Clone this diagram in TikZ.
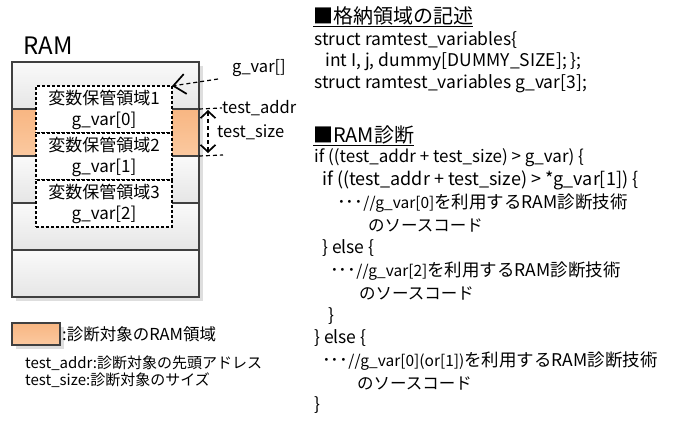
\documentclass[tikz,border=0pt]{standalone}
\usepackage{fontspec}
\setmainfont{Noto Sans CJK JP}
\usetikzlibrary{positioning,arrows.meta,shadows}
\definecolor{ramline}{HTML}{404040}
\definecolor{ramtop}{HTML}{F8B682}
\definecolor{rambot}{HTML}{FBC9A0}

\begin{document}
\begin{tikzpicture}[x=1pt,y=1pt]
        \tikzstyle{cell}=[draw=ramline, line width=1.5pt, outer sep=0pt, inner sep=0pt,
          minimum width=187pt, minimum height=47pt, top color=black!2, bottom color=black!10,
          drop shadow={shadow xshift=4pt, shadow yshift=-4pt, fill=black!13, opacity=1}]
        \tikzstyle{target}=[cell, top color=ramtop, bottom color=rambot]
        \tikzstyle{area}=[draw, line width=1.5pt, dash pattern=on 3pt off 2pt, fill=white,
          outer sep=0pt, minimum width=136pt, minimum height=47pt, align=center,
          font=\fontsize{17}{21}\selectfont]
        \tikzstyle{code}=[anchor=west, inner sep=0pt, font=\fontsize{17.5}{20}\selectfont]
        \tikzstyle{kana}=[code, font=\fontsize{16.5}{18}\selectfont]
        \tikzstyle{title}=[code, font=\fontsize{20}{22}\selectfont]
        \tikzstyle{guide}=[line width=1.2pt, dash pattern=on 4pt off 3pt]
        \useasboundingbox (0,0) rectangle (673,-421);
        % RAM
        \node[font=\fontsize{24}{24}\selectfont] (ram) at (48,-46) {RAM};
        \node[cell] (row1) at (105.5,-85.5) {};
        \node[target, below=0pt of row1] (row2) {};
        \node[cell, below=0pt of row2] (row3) {};
        \node[cell, below=0pt of row3] (row4) {};
        \node[cell, below=0pt of row4] (row5) {};
        \node[area] (var1) at (104,-109.5) {変数保管領域1\\g\_var[0]};
        \node[area, below=0pt of var1] (var2) {変数保管領域2\\g\_var[1]};
        \node[area, below=0pt of var2] (var3) {変数保管領域3\\g\_var[2]};
        % pointers
        \node[code, font=\fontsize{16.5}{20}\selectfont] (gvar) at (232,-68) {g\_var[]};
        \coordinate (gvarfrom) at (218,-79);
        \draw[guide, -{Straight Barb[length=12pt, width=20pt, line width=1.7pt]}] (gvarfrom) -- (var1.north east);
        \node[code, font=\fontsize{16.5}{20}\selectfont] (addr) at (222,-108) {test\_addr};
        \draw[guide] (row2.north east) -- (addr.west);
        \node[code, font=\fontsize{16.5}{20}\selectfont] (size) at (217,-132) {test\_size};
        \coordinate (sizetop) at (208,-110);
        \coordinate (sizebot) at (208,-153);
        \draw[guide, {Straight Barb[length=7pt, width=15pt, line width=1.7pt]}-{Straight Barb[length=7pt, width=15pt, line width=1.7pt]}] (sizetop) -- (sizebot);
        \coordinate (sizeend) at (223,-155);
        \draw[guide] (row2.south east) -- (sizeend);
        % legend
        \node[target, minimum width=48pt, minimum height=22pt] (legbox) at (36,-334) {};
        \node[code, font=\fontsize{16.5}{20}\selectfont, right=2pt of legbox] (legtext) {:診断対象のRAM領域};
        \node[code, font=\fontsize{15}{17}\selectfont] (legaddr) at (25,-363) {test\_addr:診断対象の先頭アドレス};
        \node[code, font=\fontsize{15}{17}\selectfont] (legsize) at (25,-380) {test\_size:診断対象のサイズ};
        % source text
        \node[title] (hdstore) at (313,-17) {\underline{■格納領域の記述}};
        \node[code] (st1) at (314,-40) {struct ramtest\_variables\{};
        \node[code] (st2) at (325,-62) {int I, j, dummy[DUMMY\_SIZE]; \};};
        \node[code] (st3) at (314,-84) {struct ramtest\_variables g\_var[3];};
        \node[title] (hddiag) at (313,-136) {\underline{■RAM診断}};
        \node[code, font=\fontsize{17}{20}\selectfont] (d1) at (314,-158) {if ((test\_addr + test\_size) > g\_var) \{};
        \node[code, font=\fontsize{18}{20}\selectfont] (d2) at (322,-180) {if ((test\_addr + test\_size) > *g\_var[1]) \{};
        \node[code] (d3) at (337,-203) {･･･{\fontsize{15.5}{15}\selectfont//g\_var[0]}を利用するRAM診断技術};
        \node[kana] (d4) at (368,-225) {のソースコード};
        \node[code] (d5) at (322,-248) {\} else \{};
        \node[code] (d6) at (330,-271) {･･･{\fontsize{15.5}{15}\selectfont//g\_var[2]}を利用するRAM診断技術};
        \node[kana] (d7) at (359,-293) {のソースコード};
        \node[code] (d8) at (328,-316) {\}};
        \node[code] (d9) at (314,-338) {\} else \{};
        \node[code] (d10) at (322,-361) {･･･{\fontsize{15.5}{15}\selectfont//g\_var[0](or[1])}を利用するRAM診断技術};
        \node[kana] (d11) at (357,-383) {のソースコード};
        \node[code] (d12) at (314,-405) {\}};
\end{tikzpicture}
\end{document}
